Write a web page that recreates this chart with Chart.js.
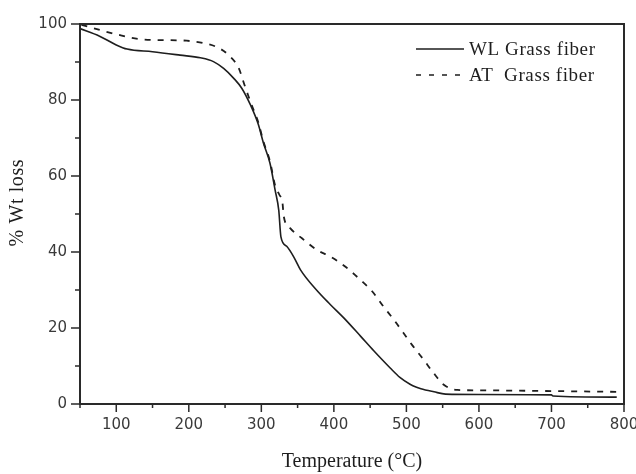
<!DOCTYPE html>
<html>
<head>
<meta charset="utf-8">
<script src="https://cdn.jsdelivr.net/npm/chart.js@4.4.1/dist/chart.umd.min.js"></script>
<style>
  html, body { margin: 0; padding: 0; background: #fff; }
  #wrap { width: 636px; height: 474px; }
</style>
</head>
<body>
<div id="wrap"><canvas id="tga"></canvas></div>
<script>
const wlTemp = [50, 77, 100, 115, 150, 188, 216, 234, 248, 262, 273, 285, 296, 303, 312, 319, 324, 327, 335, 345, 354, 377, 395, 414, 437, 455, 478, 491, 505, 514, 520, 538, 554, 600, 700, 702, 790];
const wlLoss = [98.8, 96.8, 94.5, 93.4, 92.7, 91.8, 91.1, 90.1, 88.3, 85.7, 83.1, 78.7, 73.5, 68.6, 63.3, 56.3, 51, 44, 41.5, 38.6, 35.3, 29.8, 26.2, 22.6, 17.8, 14.0, 9.4, 7, 5.2, 4.4, 4.0, 3.2, 2.6, 2.5, 2.4, 2.1, 1.8];

const atTemp = [52, 78, 100, 133, 184, 197, 220, 239, 255, 269, 276, 285, 296, 303, 312, 319, 325, 329, 331, 340, 356, 377, 395, 416, 437, 453, 467, 483, 508, 524, 536, 552, 570, 600, 700, 790];
const atLoss = [99.8, 98.4, 97.3, 96.0, 95.7, 95.6, 95.0, 93.9, 91.8, 88.3, 84.4, 79.5, 74, 69, 63.8, 57.5, 55, 53.2, 49.3, 46.2, 43.6, 40.5, 38.8, 36.1, 32.6, 29.6, 26, 22.1, 15.5, 11.6, 8.5, 5, 3.7, 3.6, 3.4, 3.2];

const xTicks = [100, 200, 300, 400, 500, 600, 700, 800];
const yTicks = [0, 20, 40, 60, 80, 100];
const seriesNames = ['WL Grass fiber', 'AT  Grass fiber'];
const yTitle = '% Wt loss';

const ink = '#1e1e1e';
const serif = '"Liberation Serif", "DejaVu Serif", serif';

function toPoints(xs, ys) {
  return xs.map((x, i) => ({ x: x, y: ys[i] }));
}

// frame, outward major/minor ticks, y title and the legend
const framePlugin = {
  id: 'frame',
  afterDraw(chart) {
    const ctx = chart.ctx;
    const area = chart.chartArea;
    const xs = chart.scales.x;
    const ys = chart.scales.y;
    ctx.save();
    ctx.strokeStyle = '#2a2a2a';
    ctx.lineWidth = 2;
    ctx.strokeRect(area.left, area.top, area.right - area.left, area.bottom - area.top);

    ctx.lineWidth = 1.5;
    ctx.beginPath();
    for (let v = xs.min; v <= xs.max; v += 50) {
      const px = xs.getPixelForValue(v);
      const len = xTicks.includes(v) ? 8 : 4;
      ctx.moveTo(px, area.bottom);
      ctx.lineTo(px, area.bottom + len);
    }
    for (let v = ys.min; v <= ys.max; v += 10) {
      const py = ys.getPixelForValue(v);
      const len = yTicks.includes(v) ? 9 : 5;
      ctx.moveTo(area.left, py);
      ctx.lineTo(area.left - len, py);
    }
    ctx.stroke();

    ctx.fillStyle = ink;
    if ('letterSpacing' in ctx) ctx.letterSpacing = '0.6px';

    // y title, sits a little above the middle of the axis
    ctx.save();
    ctx.translate(18, ys.getPixelForValue(53));
    ctx.rotate(-Math.PI / 2);
    ctx.font = '20px ' + serif;
    ctx.textAlign = 'center';
    ctx.textBaseline = 'middle';
    ctx.fillText(yTitle, 0, 0);
    ctx.restore();

    // legend
    const lx = 416, ly = [49, 75];
    ctx.strokeStyle = ink;
    ctx.lineWidth = 1.6;
    ctx.beginPath();
    ctx.moveTo(lx, ly[0]);
    ctx.lineTo(lx + 48, ly[0]);
    ctx.stroke();
    ctx.setLineDash([5, 8]);
    ctx.beginPath();
    ctx.moveTo(lx, ly[1]);
    ctx.lineTo(lx + 50, ly[1]);
    ctx.stroke();
    ctx.setLineDash([]);
    ctx.font = '19px ' + serif;
    ctx.textBaseline = 'middle';
    ctx.fillText(seriesNames[0], 469, ly[0] + 1);
    ctx.fillText(seriesNames[1], 469, ly[1] + 1);
    ctx.restore();
  }
};

const ctx = document.getElementById('tga').getContext('2d');
const chart = new Chart(ctx, {
  type: 'line',
  data: {
    datasets: [
      {
        label: seriesNames[0],
        data: toPoints(wlTemp, wlLoss),
        borderColor: ink,
        borderWidth: 1.6,
        pointRadius: 0,
        cubicInterpolationMode: 'monotone',
        fill: false
      },
      {
        label: seriesNames[1],
        data: toPoints(atTemp, atLoss),
        borderColor: ink,
        borderWidth: 1.8,
        borderDash: [6, 7],
        pointRadius: 0,
        cubicInterpolationMode: 'monotone',
        fill: false
      }
    ]
  },
  options: {
    responsive: true,
    maintainAspectRatio: false,
    animation: false,
    layout: { padding: { top: 24, right: 12, left: 0, bottom: 0 } },
    plugins: {
      legend: { display: false },
      tooltip: { enabled: false }
    },
    scales: {
      x: {
        type: 'linear',
        min: 50,
        max: 800,
        border: { display: false },
        grid: { drawOnChartArea: false, tickLength: 9, tickColor: 'rgba(0,0,0,0)' },
        ticks: {
          stepSize: 100,
          autoSkip: false,
          maxRotation: 0,
          padding: 3,
          color: '#3a3a3a',
          font: { family: '"DejaVu Sans", sans-serif', size: 15 },
          callback: v => (xTicks.includes(v) ? v : '')
        },
        title: {
          display: true,
          text: 'Temperature (°C)',
          color: ink,
          font: { family: serif, size: 20 },
          padding: { top: 12, bottom: 0 }
        },
        afterFit: s => { s.height = 70; s.paddingLeft = 0; s.paddingRight = 0; }
      },
      y: {
        min: 0,
        max: 100,
        border: { display: false },
        grid: { drawOnChartArea: false, tickLength: 9, tickColor: 'rgba(0,0,0,0)' },
        ticks: {
          stepSize: 20,
          padding: 4,
          color: '#3a3a3a',
          font: { family: '"DejaVu Sans", sans-serif', size: 15 },
          callback: v => (yTicks.includes(v) ? v : '')
        },
        afterFit: s => { s.width = 80; }
      }
    }
  },
  plugins: [framePlugin]
});
</script>
</body>
</html>
